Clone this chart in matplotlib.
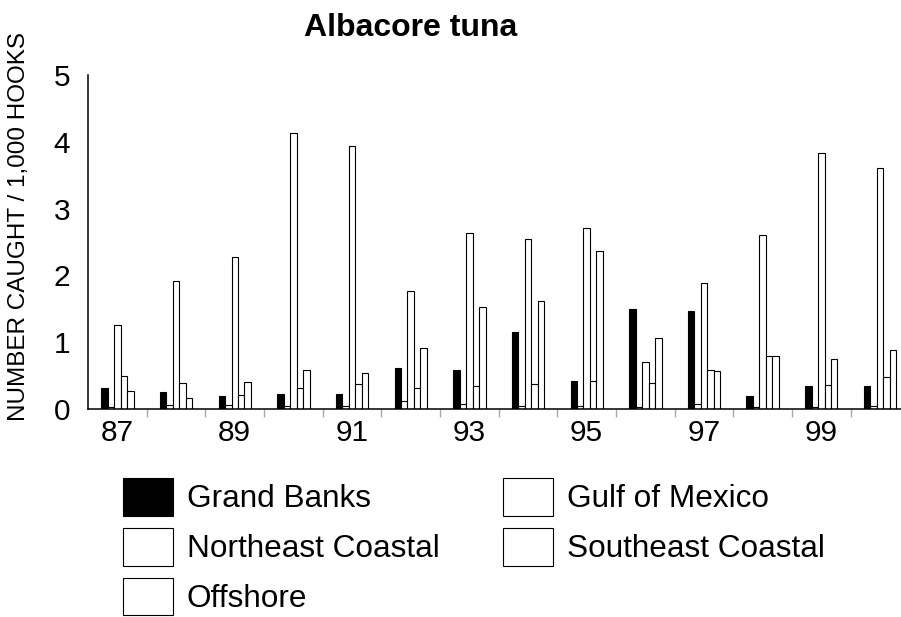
import matplotlib
matplotlib.use("Agg")
import matplotlib.pyplot as plt
import numpy as np

plt.rcParams['font.family'] = ['Liberation Sans', 'DejaVu Sans']

years = ['87', '88', '89', '90', '91', '92', '93', '94', '95', '96', '97', '98', '99', '00']
year_labels = ['87', '89', '91', '93', '95', '97', '99']
series_names = ['Grand Banks', 'Northeast Coastal', 'Offshore', 'Gulf of Mexico', 'Southeast Coastal']
grand_banks = [0.31, 0.25, 0.195, 0.225, 0.22, 0.61, 0.59, 1.15, 0.42, 1.50, 1.47, 0.20, 0.345, 0.35]
northeast = [0.025, 0.06, 0.06, 0.05, 0.04, 0.115, 0.07, 0.045, 0.045, 0.035, 0.075, 0.025, 0.025, 0.04]
offshore = [1.26, 1.91, 2.27, 4.13, 3.93, 1.77, 2.63, 2.55, 2.71, 0.70, 1.89, 2.60, 3.83, 3.61]
gulf = [0.50, 0.385, 0.205, 0.32, 0.37, 0.31, 0.345, 0.375, 0.415, 0.39, 0.58, 0.80, 0.365, 0.475]
southeast = [0.265, 0.165, 0.41, 0.58, 0.54, 0.92, 1.52, 1.62, 2.37, 1.07, 0.565, 0.80, 0.75, 0.88]

series = [grand_banks, northeast, offshore, gulf, southeast]
facecolors = ['black', 'white', 'white', 'white', 'white']

W, H = 901, 617
fig = plt.figure(figsize=(W / 100, H / 100), dpi=100)
ax = fig.add_axes([88.1 / W, 1 - 409 / H, 821.2 / W, 334 / H])

x = np.arange(len(years)) + 0.5
bw = 6.47 / 58.66
for j, (vals, fc, name) in enumerate(zip(series, facecolors, series_names)):
    ax.bar(x + (j - 2) * bw, vals, width=bw, color=fc, edgecolor='black',
           linewidth=0.8, label=name)

ax.set_xlim(0, len(years))
ax.set_ylim(0, 5)
ax.set_yticks([0, 1, 2, 3, 4, 5])
ax.set_yticklabels(['0', '1', '2', '3', '4', '5'])
ax.tick_params(axis='y', length=0, pad=13, labelsize=21.5)

ax.set_xticks(np.arange(1, len(years)))
ax.set_xticklabels([])
ax.tick_params(axis='x', which='major', direction='out', length=5.5, width=1, color='#aaaaaa')
ax.set_xticks(x[::2], minor=True)
ax.set_xticklabels(year_labels, minor=True)
ax.tick_params(axis='x', which='minor', length=0, pad=7, labelsize=21.5)

for s in ['top', 'right']:
    ax.spines[s].set_visible(False)
for s in ['left', 'bottom']:
    ax.spines[s].set_linewidth(1.1)
    ax.spines[s].set_color('black')

fig.text(411 / W, 1 - 36 / H, 'Albacore tuna', ha='center', va='baseline',
         fontsize=23, fontweight='bold')
fig.text(19 / W, 1 - 227 / H, 'NUMBER CAUGHT / 1,000 HOOKS', rotation=90,
         ha='center', va='center', fontsize=17.5)

fs = 22.7
fpx = fs * 100 / 72
fig.legend(loc='upper left', bbox_to_anchor=(123 / W, 1 - 478 / H), ncol=2,
           frameon=False, fontsize=fs, borderpad=0, borderaxespad=0,
           handlelength=50 / fpx, handleheight=1.24 * 39 / 33, handletextpad=14 / fpx,
           labelspacing=12 / fpx, columnspacing=63 / fpx)

fig.savefig('out.png', dpi=100)
